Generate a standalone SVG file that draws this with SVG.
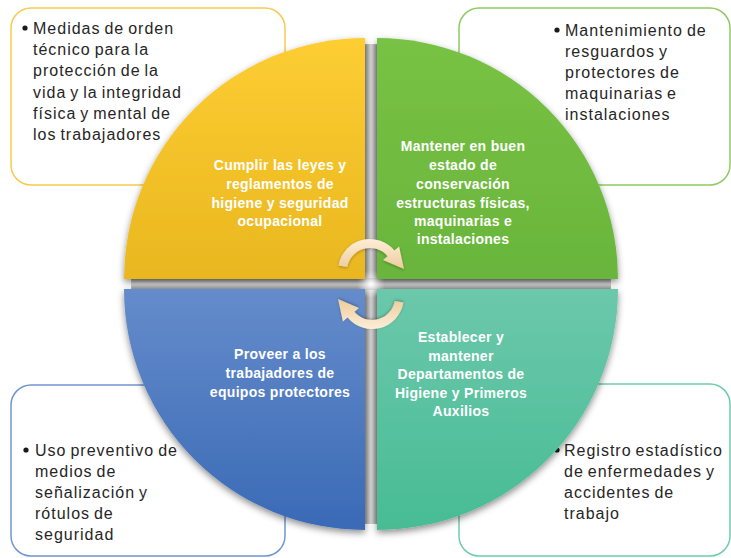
<svg xmlns="http://www.w3.org/2000/svg" width="731" height="558" viewBox="0 0 731 558">
<defs>
<linearGradient id="gY" x1="0" y1="0" x2="0" y2="1"><stop offset="0" stop-color="#FDCD33"/><stop offset="1" stop-color="#E9B71F"/></linearGradient>
<linearGradient id="gG" x1="0" y1="0" x2="0" y2="1"><stop offset="0" stop-color="#78C244"/><stop offset="1" stop-color="#69B53C"/></linearGradient>
<linearGradient id="gB" x1="0" y1="0" x2="0" y2="1"><stop offset="0" stop-color="#658CCB"/><stop offset="1" stop-color="#3A6AB6"/></linearGradient>
<linearGradient id="gT" x1="0" y1="0" x2="0" y2="1"><stop offset="0" stop-color="#6CC8AB"/><stop offset="1" stop-color="#47BC94"/></linearGradient>
<linearGradient id="gV" x1="0" y1="0" x2="1" y2="0"><stop offset="0" stop-color="#8E8E8E"/><stop offset="0.5" stop-color="#D6D6D6"/><stop offset="1" stop-color="#8E8E8E"/></linearGradient>
<linearGradient id="gH" x1="0" y1="0" x2="0" y2="1"><stop offset="0" stop-color="#8E8E8E"/><stop offset="0.5" stop-color="#D6D6D6"/><stop offset="1" stop-color="#8E8E8E"/></linearGradient>
<radialGradient id="gGlow"><stop offset="0" stop-color="#FFFFFF"/><stop offset="1" stop-color="#FFFFFF" stop-opacity="0"/></radialGradient>
<linearGradient id="gA" x1="0" y1="0" x2="0" y2="1"><stop offset="0" stop-color="#FDEED8"/><stop offset="1" stop-color="#EDCC9C"/></linearGradient>
<clipPath id="circ"><circle cx="371" cy="284" r="240"/></clipPath>
<filter id="sh" x="-10%" y="-10%" width="120%" height="125%"><feDropShadow dx="0" dy="3" stdDeviation="3.5" flood-color="#000" flood-opacity="0.45"/></filter>
<filter id="ash" x="-20%" y="-20%" width="140%" height="140%"><feDropShadow dx="0" dy="1" stdDeviation="1.5" flood-color="#000" flood-opacity="0.3"/></filter>
<path id="arr" d="M338.5,265.4 A32,32 0 0 1 394.5,250.4 L399.1,246.5 L404,269 L383,260.1 L387.6,256.2 A23,23 0 0 0 347.3,267 Z"/>
</defs>
<style>
.box{fill:#FFFFFF;stroke-width:1.5}
.bt{font-family:"Liberation Sans",Arial,sans-serif;font-size:16px;fill:#262626;letter-spacing:1px;word-spacing:-1.5px}
.wt{font-family:"Liberation Sans",Arial,sans-serif;font-size:14px;font-weight:bold;fill:#FFFFFF;text-anchor:middle;letter-spacing:0.3px}
.dot{fill:#1A1A1A}
</style>
<rect width="731" height="558" fill="#FFFFFF"/>
<g id="box-tl"><rect class="box" x="11" y="8" width="274" height="177" rx="20" stroke="#F7CB4F"/>
<circle class="dot" cx="25" cy="28" r="2.6"/>
<text class="bt"><tspan x="33" y="34">Medidas de orden</tspan><tspan x="33" y="55">técnico para la</tspan><tspan x="33" y="76">protección de la</tspan><tspan x="33" y="98">vida y la integridad</tspan><tspan x="33" y="119">física y mental de</tspan><tspan x="33" y="140">los trabajadores</tspan></text></g>
<g id="box-tr"><rect class="box" x="459" y="8" width="271" height="177" rx="20" stroke="#8ECB62"/>
<circle class="dot" cx="557" cy="30" r="2.6"/>
<text class="bt"><tspan x="565" y="36">Mantenimiento de</tspan><tspan x="565" y="57">resguardos y</tspan><tspan x="565" y="78">protectores de</tspan><tspan x="565" y="99">maquinarias e</tspan><tspan x="565" y="120">instalaciones</tspan></text></g>
<g id="box-bl"><rect class="box" x="11" y="385" width="274" height="171" rx="20" stroke="#7096D2"/>
<circle class="dot" cx="26" cy="450" r="2.6"/>
<text class="bt"><tspan x="35" y="456">Uso preventivo de</tspan><tspan x="35" y="477">medios de</tspan><tspan x="35" y="498">señalización y</tspan><tspan x="35" y="519">rótulos de</tspan><tspan x="35" y="540">seguridad</tspan></text></g>
<g id="box-br"><rect class="box" x="459" y="384" width="271" height="172" rx="20" stroke="#6FCBAE"/>
<circle class="dot" cx="557" cy="450" r="2.6"/>
<text class="bt"><tspan x="564" y="456">Registro estadístico</tspan><tspan x="564" y="477">de enfermedades y</tspan><tspan x="564" y="498">accidentes de</tspan><tspan x="564" y="519">trabajo</tspan></text></g>
<g id="gap" clip-path="url(#circ)">
<rect x="364" y="36" width="14" height="496" fill="url(#gV)"/>
<rect x="122" y="278" width="498" height="12" fill="url(#gH)"/>
<circle cx="371" cy="284" r="14" fill="url(#gGlow)"/>
</g>
<g id="q-yellow"><path d="M365,279 L124,279 A241,241 0 0 1 365,38 Z" fill="url(#gY)" filter="url(#sh)"/>
<text class="wt"><tspan x="280" y="170">Cumplir las leyes y</tspan><tspan x="280" y="189">reglamentos de</tspan><tspan x="280" y="208">higiene y seguridad</tspan><tspan x="280" y="226">ocupacional</tspan></text></g>
<g id="q-green"><path d="M377,279 L377,38 A241,241 0 0 1 618,279 Z" fill="url(#gG)" filter="url(#sh)"/>
<text class="wt"><tspan x="463" y="151">Mantener en buen</tspan><tspan x="463" y="170">estado de</tspan><tspan x="463" y="189">conservación</tspan><tspan x="463" y="208">estructuras físicas,</tspan><tspan x="463" y="226">maquinarias e</tspan><tspan x="463" y="244">instalaciones</tspan></text></g>
<g id="q-blue"><path d="M365,289 L365,530 A241,241 0 0 1 124,289 Z" fill="url(#gB)" filter="url(#sh)"/>
<text class="wt"><tspan x="280" y="359">Proveer a los</tspan><tspan x="280" y="378">trabajadores de</tspan><tspan x="280" y="397">equipos protectores</tspan></text></g>
<g id="q-teal"><path d="M377,289 L618,289 A241,241 0 0 1 377,530 Z" fill="url(#gT)" filter="url(#sh)"/>
<text class="wt"><tspan x="461" y="342">Establecer y</tspan><tspan x="461" y="361">mantener</tspan><tspan x="461" y="379">Departamentos de</tspan><tspan x="461" y="398">Higiene y Primeros</tspan><tspan x="461" y="416">Auxilios</tspan></text></g>
<g id="connectors">
<use href="#arr" fill="url(#gA)" filter="url(#ash)"/>
<use href="#arr" fill="url(#gA)" filter="url(#ash)" transform="rotate(180 371 284)"/>
</g>
</svg>
